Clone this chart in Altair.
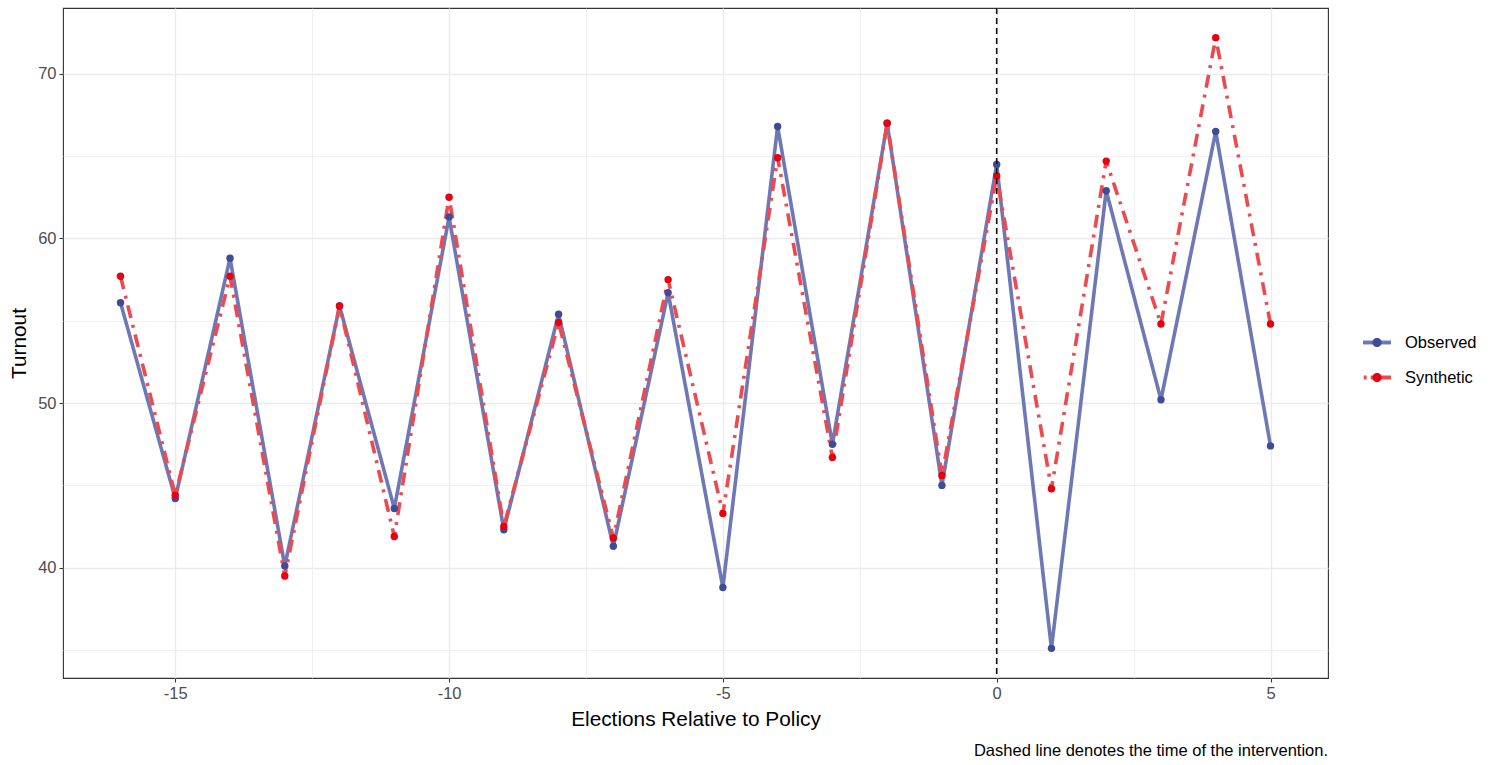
import altair as alt
import pandas as pd

# ---- data ----
elections = list(range(-16, 6))
observed = [56.1, 44.2, 58.8, 40.1, 55.9, 43.6, 61.3, 42.3, 55.4, 41.3, 56.7,
            38.8, 66.8, 47.5, 67.0, 45.0, 64.5, 35.1, 62.9, 50.2, 66.5, 47.4]
synthetic = [57.7, 44.4, 57.7, 39.5, 55.9, 41.9, 62.5, 42.5, 54.9, 41.8, 57.5,
             43.3, 64.9, 46.7, 67.0, 45.6, 63.8, 44.8, 64.7, 54.8, 72.2, 54.8]
series_names = ["Observed", "Synthetic"]
intervention = [0]
x_tick_values = [-15, -12.5, -10, -7.5, -5, -2.5, 0, 2.5, 5]
y_tick_values = [35, 40, 45, 50, 55, 60, 65, 70]
caption = "Dashed line denotes the time of the intervention."

rows = []
for name, vals in zip(series_names, [observed, synthetic]):
    for e, v in zip(elections, vals):
        rows.append({"election": e, "turnout": v, "series": name})
df = pd.DataFrame(rows)
rule_df = pd.DataFrame({"election": intervention})

FONT = "Liberation Sans"
line_colors = ["#6E78B5", "#EC4A4E"]
dot_colors = ["#3D4C94", "#E8000E"]

solid_path = "M-1,-0.14L1,-0.14L1,0.14L-1,0.14Z"
dash_path = ("M-0.95,-0.14L-0.74,-0.14L-0.74,0.14L-0.95,0.14Z "
             "M-0.45,-0.14L1,-0.14L1,0.14L-0.45,0.14Z")
circle_path = "M0.33,0A0.33,0.33,0,1,1,-0.33,0A0.33,0.33,0,1,1,0.33,0Z"

xaxis = alt.Axis(
    title="Elections Relative to Policy",
    values=x_tick_values,
    labelExpr="datum.value % 5 == 0 ? '' + datum.value : ''",
    tickOpacity={"condition": {"test": "datum.value % 5 != 0", "value": 0}, "value": 1},
    gridWidth={"condition": {"test": "datum.value % 5 != 0", "value": 0.7}, "value": 1.4},
    domain=False,
    labelPadding=3,
    titlePadding=8,
)
yaxis = alt.Axis(
    title="Turnout",
    values=y_tick_values,
    labelExpr="datum.value % 10 == 0 ? '' + datum.value : ''",
    tickOpacity={"condition": {"test": "datum.value % 10 != 0", "value": 0}, "value": 1},
    gridWidth={"condition": {"test": "datum.value % 10 != 0", "value": 0.7}, "value": 1.4},
    domain=False,
    labelPadding=3,
    titlePadding=8,
)

x_enc = alt.X("election:Q", scale=alt.Scale(domain=[-17.05, 6.05], nice=False, zero=False), axis=xaxis)
y_enc = alt.Y("turnout:Q", scale=alt.Scale(domain=[33.3, 74.0], nice=False, zero=False), axis=yaxis)

base = alt.Chart(df)

lines = base.mark_line(strokeWidth=3.6, strokeCap="butt").encode(
    x=x_enc,
    y=y_enc,
    color=alt.Color("series:N", scale=alt.Scale(domain=series_names, range=line_colors), legend=None),
    strokeDash=alt.StrokeDash("series:N", scale=alt.Scale(domain=series_names, range=[[1, 0], [13, 7, 3, 7]]), legend=None),
    detail="series:N",
)

points = base.mark_circle(size=55, opacity=1).encode(
    x=x_enc,
    y=y_enc,
    color=alt.Color("series:N", scale=alt.Scale(domain=series_names, range=dot_colors), legend=None),
)

rule = alt.Chart(rule_df).mark_rule(color="#111111", strokeDash=[6, 4], strokeWidth=1.6).encode(x=x_enc)

LEG_X = 1300
LEG_Y = 320.5
ROW = 35


def legend_layer(colors, legend):
    return base.transform_filter("datum.election > 1000").mark_point(
        filled=True, size=784, strokeWidth=0, opacity=1
    ).encode(
        x=x_enc,
        y=y_enc,
        color=alt.Color("series:N", title=None,
                        scale=alt.Scale(domain=series_names, range=colors),
                        legend=legend),
    )


leg_obs_line = alt.Legend(orient="none", legendX=LEG_X, legendY=LEG_Y, symbolSize=784,
                          symbolType=solid_path, symbolStrokeWidth=0, symbolOpacity=1,
                          values=["Observed"], labelExpr="''", labelOffset=14,
                          rowPadding=7, zindex=1, labelFont=FONT, labelFontSize=16.5)
leg_syn_line = alt.Legend(orient="none", legendX=LEG_X, legendY=LEG_Y + ROW, symbolSize=784,
                          symbolType=dash_path, symbolStrokeWidth=0, symbolOpacity=1,
                          values=["Synthetic"], labelExpr="''", labelOffset=14,
                          rowPadding=7, zindex=1, labelFont=FONT, labelFontSize=16.5)
leg_dots = alt.Legend(orient="none", legendX=LEG_X, legendY=LEG_Y, symbolSize=784,
                      symbolType=circle_path, symbolStrokeWidth=0, symbolOpacity=1,
                      labelOffset=14, rowPadding=12, zindex=2,
                      labelFont=FONT, labelFontSize=16.5, labelColor="#000000")

chart = alt.layer(
    lines, points, rule,
    legend_layer(line_colors, leg_obs_line),
    legend_layer(line_colors, leg_syn_line),
    legend_layer(dot_colors, leg_dots),
).resolve_scale(
    color="independent"
).properties(
    width=1265,
    height=670,
    padding={"left": 63, "top": 8, "right": 168, "bottom": 87},
    autosize=alt.AutoSizeParams(type="none"),
    title=alt.TitleParams(text=caption, orient="bottom", anchor="end", font=FONT,
                          fontSize=16.5, fontWeight="normal", color="#000000",
                          offset=14, dx=-149),
).configure(
    background="white",
).configure_view(
    stroke="#333333", strokeWidth=1.1,
).configure_axis(
    labelFont=FONT, labelFontSize=16.5, labelColor="#4D4D4D",
    titleFont=FONT, titleFontSize=20.8, titleColor="#000000", titleFontWeight="normal",
    tickColor="#333333", tickWidth=1.1, tickSize=4,
    gridColor="#EBEBEB",
)

chart.save("out.html", embed_options={"renderer": "svg", "actions": False})
